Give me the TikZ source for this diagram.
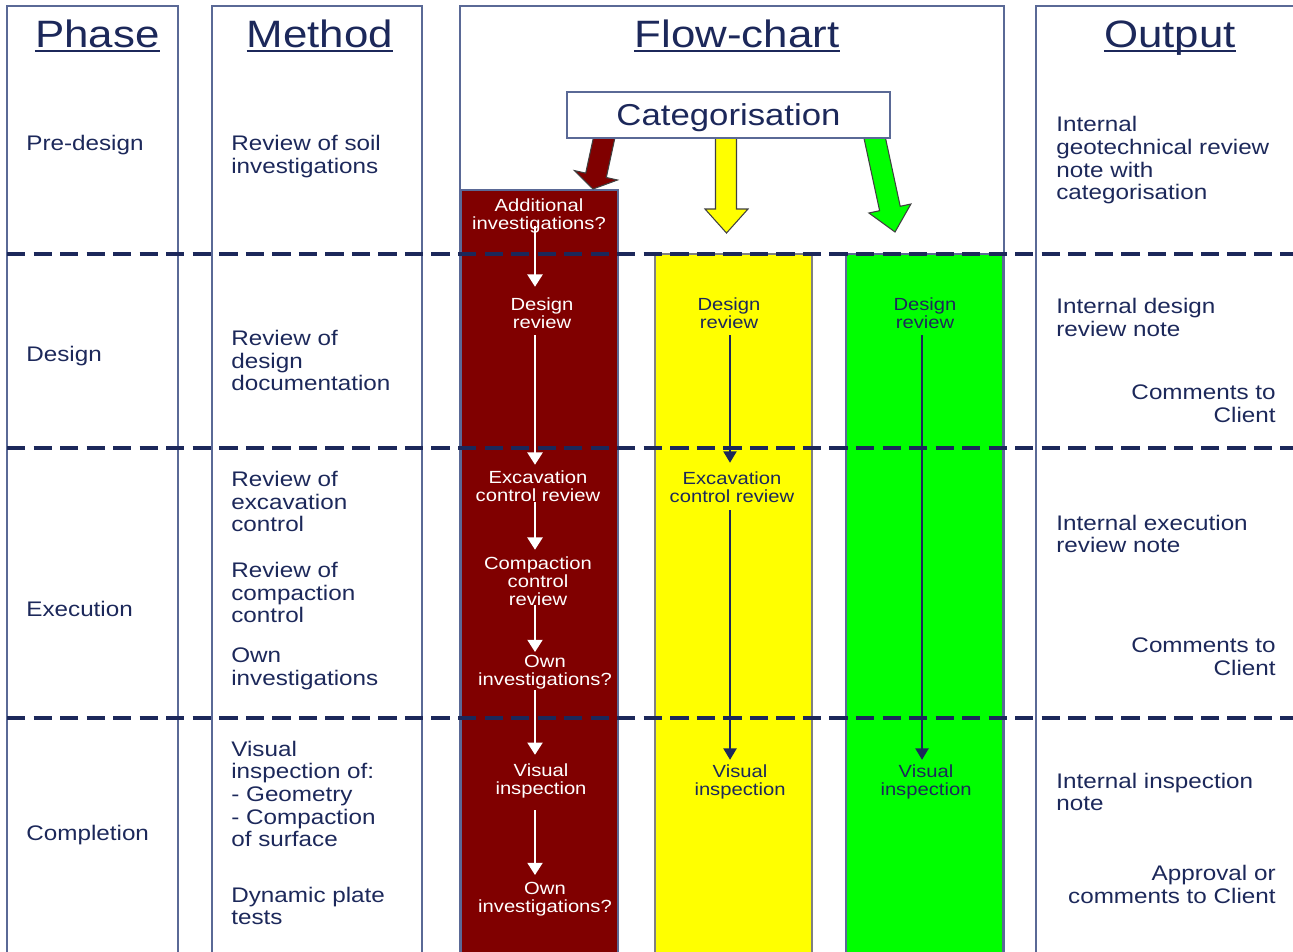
\documentclass[tikz,border=0pt]{standalone}
\usepackage{fontspec}
\setmainfont{Liberation Sans}[FakeStretch=1.15]
\usetikzlibrary{arrows.meta,calc}
\definecolor{navy}{RGB}{28,40,90}
\definecolor{frame}{RGB}{90,105,150}
\definecolor{dred}{RGB}{128,0,0}
\definecolor{yel}{RGB}{255,255,0}
\definecolor{grn}{RGB}{0,255,0}
\begin{document}
\begin{tikzpicture}[x=0.02cm,y=-0.02cm,
  txt/.style={inner sep=0pt, text=navy, font=\fontsize{12}{12.9}\selectfont, align=left, anchor=west},
  txtr/.style={txt, align=right, anchor=east},
  hdr/.style={inner sep=0pt, text=navy, font=\fontsize{21.7}{24}\selectfont, anchor=base},
  flw/.style={inner sep=0pt, text=white, font=\fontsize{10}{10.2}\selectfont, align=center},
  fln/.style={flw, text=navy},
  colbox/.style={draw=frame, line width=0.8pt},
  phaseline/.style={draw=navy, line width=2.27pt, dash pattern=on 10.4pt off 4.7pt},
  warr/.style={draw=white, line width=1.4pt, -{Triangle[width=8.5pt,length=7pt]}},
  narr/.style={draw=navy, line width=1pt, -{Triangle[width=7.5pt,length=6.5pt]}},
  blk/.style={draw=black!75, line width=0.6pt},
  uline/.style={draw=navy, line width=1.2pt}
]
\useasboundingbox (0,0) rectangle (1293,951);
\clip (0,0) rectangle (1293,951);

% column frames
\draw[colbox] (7,6) rectangle (178,960);
\draw[colbox] (212,6) rectangle (422,960);
\draw[colbox] (460,6) rectangle (1004,960);
\draw[colbox] (1036,6) rectangle (1300,960);

% coloured lanes
\filldraw[fill=dred, draw=frame, line width=0.6pt] (461,190) rectangle (618,960);
\filldraw[fill=yel, draw=gray, line width=0.6pt] (655,254) rectangle (812,960);
\filldraw[fill=grn, draw=frame, line width=0.6pt] (846,254) rectangle (1003,960);

% phase separators
\foreach \yy in {254,448,718} \draw[phaseline] (7,\yy) -- (1293,\yy);

% headers
\node[hdr] (hph) at (97.5,47) {Phase};
\node[hdr] (hme) at (320,47) {Method};
\node[hdr] (hfl) at (737,47) {Flow-chart};
\node[hdr] (hou) at (1170,47) {Output};
\foreach \h in {hph,hme,hfl,hou}
  \draw[uline] ([yshift=-2.3pt]\h.base west) -- ([yshift=-2.3pt]\h.base east);

% block arrows from categorisation
\filldraw[blk, fill=dred] (595.8,126.6) -- (585.7,173.1) -- (574.5,170.6) -- (593,189) -- (617.5,180) -- (606.3,177.5) -- (616.4,130.9) -- cycle;
\filldraw[blk, fill=yel] (715.5,130) -- (715.5,209) -- (705,209) -- (726.5,233) -- (748,209) -- (736.5,209) -- (736.5,130) -- cycle;
\filldraw[blk, fill=grn] (862.6,131.9) -- (879.6,210.7) -- (868.9,213) -- (895,232) -- (910.9,204) -- (900.2,206.3) -- (883.2,127.5) -- cycle;

\node[draw=frame, fill=white, line width=0.8pt, minimum width=6.46cm, minimum height=0.92cm, inner sep=0pt, text height=13pt, text depth=1.4pt, text=navy, font=\fontsize{17.2}{20}\selectfont] (cat) at (728.5,115) {Categorisation};

% phase column
\node[txt] (p1) at (26,145) {Pre-design};
\node[txt] (p2) at (26,356) {Design};
\node[txt] (p3) at (26,609) {Execution};
\node[txt] (p4) at (26,835) {Completion};

% method column
\node[txt] (m1) at (231,156.5) {Review of soil\\investigations};
\node[txt] (m2) at (231,360.5) {Review of\\design\\documentation};
\node[txt] (m3) at (231,501.5) {Review of\\excavation\\control};
\node[txt] (m4) at (231,592.5) {Review of\\compaction\\control};
\node[txt] (m5) at (231,668.5) {Own\\investigations};
\node[txt] (m6) at (231,794) {Visual\\inspection of:\\- Geometry\\- Compaction\\of surface};
\node[txt] (m7) at (231,906) {Dynamic plate\\tests};

% output column
\node[txt] (o1) at (1056,160.5) {Internal\\geotechnical review\\note with\\categorisation};
\node[txt] (o2) at (1056,317.5) {Internal design\\review note};
\node[txtr] (o3) at (1276,403.5) {Comments to\\Client};
\node[txt] (o4) at (1056,534) {Internal execution\\review note};
\node[txtr] (o5) at (1276,657) {Comments to\\Client};
\node[txt] (o6) at (1056,792) {Internal inspection\\note};
\node[txtr] (o7) at (1276,884.5) {Approval or\\comments to Client};

% red lane
\node[flw] (ai) at (539,216) {Additional\\investigations?};
\node[flw] (rdr) at (542,313) {Design\\review};
\node[flw] (rex) at (538,486) {Excavation\\control review};
\node[flw] (rco) at (538,581) {Compaction\\control\\review};
\node[flw] (row) at (545,672.5) {Own\\investigations?};
\node[flw] (rvi) at (541,780.5) {Visual\\inspection};
\node[flw] (row2) at (545,899.5) {Own\\investigations?};
\coordinate (rx) at (535,0);
\draw[warr] ($(rx|-ai.south)+(0,-8)$) -- ($(rx|-rdr.north)+(0,-10.5)$);
\draw[warr] ($(rx|-rdr.south)+(0,6.5)$) -- ($(rx|-rex.north)+(0,-5.5)$);
\draw[warr] ($(rx|-rex.south)+(0,0.5)$) -- ($(rx|-rco.north)+(0,-6.5)$);
\draw[warr] ($(rx|-rco.south)+(0,-0.5)$) -- ($(rx|-row.north)+(0,-3.2)$);
\draw[warr] ($(rx|-row.south)+(0,0.2)$) -- ($(rx|-rvi.north)+(0,-8.2)$);
\draw[warr] ($(rx|-rvi.south)+(0,12.2)$) -- ($(rx|-row2.north)+(0,-7.2)$);

% yellow lane
\node[fln] (ydr) at (729,313) {Design\\review};
\node[fln] (yex) at (732,487) {Excavation\\control review};
\node[fln] (yvi) at (740,782) {Visual\\inspection};
\coordinate (yx) at (730,0);
\draw[narr] ($(yx|-ydr.south)+(0,6.5)$) -- ($(yx|-yex.north)+(0,-8.5)$);
\draw[narr] ($(yx|-yex.south)+(0,7.5)$) -- ($(yx|-yvi.north)+(0,-4.7)$);

% green lane
\node[fln] (gdr) at (925,313) {Design\\review};
\node[fln] (gvi) at (926,782) {Visual\\inspection};
\coordinate (gx) at (922,0);
\draw[narr] ($(gx|-gdr.south)+(0,6.5)$) -- ($(gx|-gvi.north)+(0,-4.7)$);
\end{tikzpicture}
\end{document}
